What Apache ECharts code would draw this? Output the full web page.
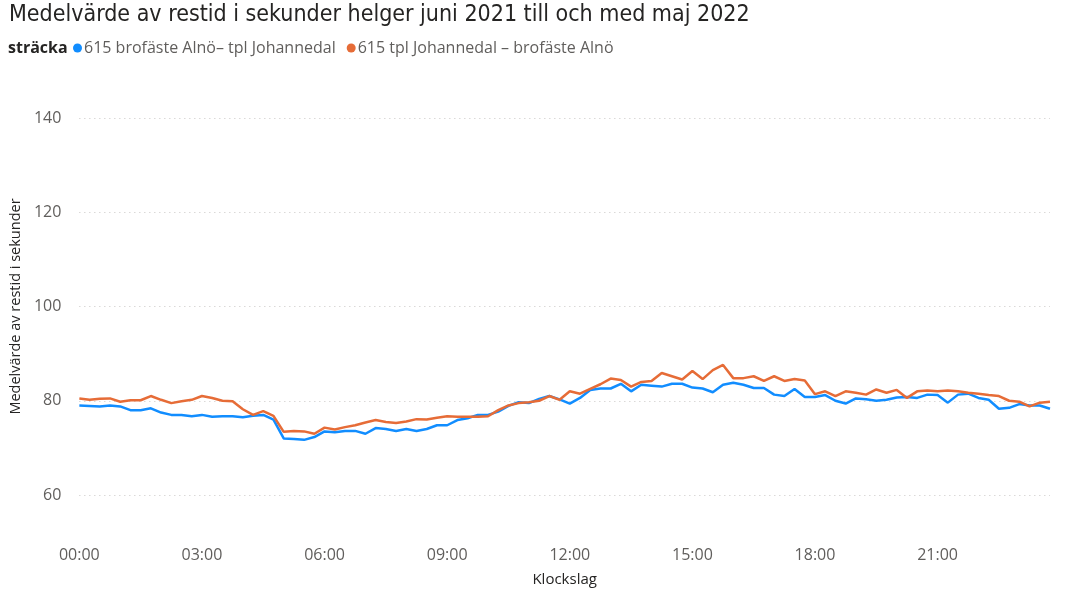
<!DOCTYPE html>
<html>
<head>
<meta charset="utf-8">
<script src="https://cdn.jsdelivr.net/npm/echarts@6/dist/echarts.min.js"></script>
<style>
html,body{margin:0;padding:0;background:#fff;}
#chart{width:1071px;height:600px;}
</style>
</head>
<body>
<div id="chart"></div>
<script>
// Tidpunkter (15-minutersintervall)
const times = [];
for (let h = 0; h < 24; h++) {
  for (let m = 0; m < 60; m += 15) {
    times.push(String(h).padStart(2, '0') + ':' + String(m).padStart(2, '0'));
  }
}

const seriesNames = ['615 brofäste Alnö– tpl Johannedal', '615 tpl Johannedal – brofäste Alnö'];

const alnoToJohannedal = [
  79.0, 78.9, 78.8, 79.0, 78.8, 78.0, 78.0, 78.4,
  77.5, 77.0, 77.0, 76.7, 77.0, 76.6, 76.7, 76.7,
  76.5, 76.8, 77.0, 76.0, 72.0, 71.9, 71.7, 72.3,
  73.5, 73.3, 73.6, 73.6, 73.0, 74.2, 74.0, 73.6,
  74.0, 73.6, 74.0, 74.8, 74.8, 75.9, 76.3, 77.0,
  77.0, 77.7, 78.9, 79.7, 79.5, 80.4, 81.0, 80.3,
  79.4, 80.6, 82.3, 82.6, 82.6, 83.6, 82.0, 83.4,
  83.2, 83.0, 83.6, 83.6, 82.8, 82.6, 81.8, 83.4,
  83.8, 83.4, 82.7, 82.7, 81.3, 81.0, 82.5, 80.8,
  80.8, 81.2, 80.0, 79.4, 80.5, 80.3, 80.0, 80.2,
  80.7, 80.8, 80.6, 81.3, 81.2, 79.6, 81.3, 81.5,
  80.6, 80.2, 78.3, 78.5, 79.3, 79.0, 79.0, 78.3
];

const johannedalToAlno = [
  80.5, 80.2, 80.4, 80.5, 79.8, 80.1, 80.1, 81.0,
  80.2, 79.5, 79.9, 80.2, 81.0, 80.6, 80.0, 79.9,
  78.2, 77.0, 77.8, 76.8, 73.4, 73.6, 73.5, 73.0,
  74.3, 73.9, 74.4, 74.8, 75.4, 75.9, 75.5, 75.3,
  75.6, 76.1, 76.0, 76.4, 76.7, 76.6, 76.6, 76.6,
  76.7, 78.0, 79.0, 79.5, 79.7, 80.0, 81.0, 80.2,
  82.0, 81.5, 82.5, 83.5, 84.7, 84.4, 83.0, 84.0,
  84.2, 85.9, 85.2, 84.5, 86.3, 84.6, 86.5, 87.6,
  84.8, 84.8, 85.2, 84.2, 85.2, 84.2, 84.6, 84.3,
  81.4, 82.0, 81.0, 82.0, 81.7, 81.3, 82.4, 81.7,
  82.3, 80.6, 82.0, 82.2, 82.0, 82.2, 82.0, 81.7,
  81.5, 81.2, 81.0, 80.0, 79.8, 78.8, 79.6, 79.8
];

const yTicks = [60, 80, 100, 120, 140];

const chart = echarts.init(document.getElementById('chart'), null, {renderer: 'canvas'});
const font = '"Open Sans", "Noto Sans", sans-serif';

chart.setOption({
  animation: false,
  backgroundColor: '#ffffff',
  color: ['#118DFF', '#E66C37'],
  title: {
    text: 'Medelvärde av restid i sekunder helger juni 2021 till och med maj 2022',
    left: 9, top: 4, padding: 0,
    textStyle: {fontFamily: '"DejaVu Sans Condensed", sans-serif', fontSize: 23, fontWeight: 'normal', color: '#252423'}
  },
  graphic: [{
    type: 'text', left: 8, top: 38,
    style: {text: 'sträcka', fontFamily: font, fontSize: 16, fontWeight: 'bold', fill: '#252423', lineHeight: 20}
  }],
  legend: {
    left: 73, top: 38, padding: 0,
    icon: 'circle', itemWidth: 9, itemHeight: 9, itemGap: 11,
    data: seriesNames,
    textStyle: {fontFamily: font, fontSize: 16, lineHeight: 20, color: '#605E5C', padding: [0, 0, 0, -3]}
  },
  grid: {left: 76, right: 21, top: 118, bottom: 105, containLabel: false},
  xAxis: {
    type: 'category',
    data: times,
    boundaryGap: false,
    offset: 47,
    name: 'Klockslag',
    nameLocation: 'middle',
    nameGap: 30,
    nameTextStyle: {fontFamily: font, fontSize: 15, color: '#252423'},
    axisLine: {show: false},
    axisTick: {show: false},
    axisLabel: {interval: 11, fontFamily: font, fontSize: 16, color: '#605E5C', margin: 5},
    splitLine: {show: false}
  },
  yAxis: {
    type: 'value',
    min: yTicks[0], max: yTicks[yTicks.length - 1], interval: 20,
    name: 'Medelvärde av restid i sekunder',
    nameLocation: 'middle',
    nameGap: 54,
    nameTextStyle: {fontFamily: font, fontSize: 14.5, color: '#252423'},
    axisLine: {show: false},
    axisTick: {show: false},
    axisLabel: {fontFamily: font, fontSize: 16, color: '#605E5C', margin: 18},
    splitLine: {lineStyle: {type: [1, 4], color: '#C8C6C4', width: 1}}
  },
  series: [
    {name: seriesNames[0], type: 'line', data: alnoToJohannedal, showSymbol: false, lineStyle: {width: 2.5}},
    {name: seriesNames[1], type: 'line', data: johannedalToAlno, showSymbol: false, lineStyle: {width: 2.5}}
  ]
});
</script>
</body>
</html>
